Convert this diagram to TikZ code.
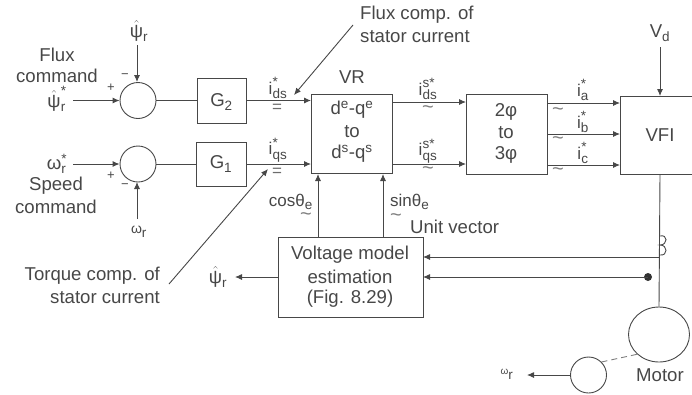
\documentclass[tikz,border=0pt]{standalone}
\usepackage{fontspec}
\setmainfont{Liberation Sans}
\usetikzlibrary{arrows.meta,calc,shapes.geometric}
\definecolor{ink}{gray}{0.28}
\newcommand{\fs}[1]{\fontsize{#1}{#1}\selectfont}
\newcommand{\sym}[3]{$\hbox{#1}_{\hbox{\fs{13.5}#3}}^{\hbox{\fs{13.5}#2}}$}
\newcommand{\hsym}[2]{$\hat{\hbox{ψ}}_{\hbox{\fs{13.5}#2}}^{\hbox{\fs{13.5}#1}}$}
\tikzset{
  txt/.style={text=ink,font=\fs{18.6},inner sep=0pt,align=center},
  lab/.style={txt,font=\fs{17}},
  tld/.style={text=ink!70,font=\fs{20},inner sep=0pt},
  eqs/.style={text=ink!80,font=\fs{17},inner sep=0pt},
  block/.style={draw=ink,line width=0.9pt,inner sep=0pt},
  ring/.style={draw=ink,line width=0.9pt,circle,inner sep=0pt},
  wire/.style={draw=ink,line width=0.9pt},
  arr/.style={wire,-{Latex[length=7pt,width=6pt]}}
}
\begin{document}
\begin{tikzpicture}[x=1pt,y=-1pt]
\useasboundingbox (0,0) rectangle (692,394);
% blocks
\node[ring,minimum size=36pt] (s1) at (138,100.5) {};
\node[ring,minimum size=36pt] (s2) at (138,164) {};
\node[block,minimum width=49pt,minimum height=45pt] (g2) at (221.5,100.5) {};
\node[txt] at (221.5,102) (g2t) {G$_{\hbox{\fs{13.5}2}}$};
\node[block,minimum width=50pt,minimum height=44pt] (g1) at (221,164) {};
\node[txt] at (221,164) (g1t) {G$_{\hbox{\fs{13.5}1}}$};
\node[block,minimum width=81pt,minimum height=79pt] (vr) at (351.5,133.5) {};
\node[txt] (vrt1) at (352,110) {d$^{\hbox{\fs{13.5}e}}$-q$^{\hbox{\fs{13.5}e}}$};
\node[txt] (vrt2) at (352,132) {to};
\node[txt] (vrt3) at (352,154) {d$^{\hbox{\fs{13.5}s}}$-q$^{\hbox{\fs{13.5}s}}$};
\node[block,minimum width=81pt,minimum height=80pt] (tp) at (506.5,134) {};
\node[txt] (tp1) at (506,112) {2φ};
\node[txt] (tp2) at (506,133) {to};
\node[txt] (tp3) at (506,155) {3φ};
\node[block,minimum width=72pt,minimum height=78pt,anchor=west] (vfi) at (620,135) {};
\node[txt] (vfit) at (660,135) {VFI};
\node[block,minimum width=145pt,minimum height=80pt] (vm) at (350.5,277) {};
\node[txt] (vm1) at (350,255) {Voltage model};
\node[txt] (vm2) at (350,277) {estimation};
\node[txt] (vm3) at (350,299) {(Fig. 8.29)};
\node[draw=ink,line width=0.9pt,ellipse,minimum width=61pt,minimum height=55pt,inner sep=0pt] (mot) at (659,334.5) {};
\node[ring,minimum size=36pt] (tach) at (588.5,375) {};
% text
\node[txt] (flux) at (57,55) {Flux};
\node[txt] (fcmd) at (57,76) {command};
\node[txt] (psic) at (57,99) {\hsym{*}{r}};
\node[txt] (psifb) at (139,31) {\hsym{}{r}};
\node[txt] (wc) at (57,164) {\sym{ω}{*}{r}};
\node[txt] (speed) at (56,186) {Speed};
\node[txt] (scmd) at (56,207) {command};
\node[txt,font=\fs{14}] (wfb) at (139,232) {\sym{ω}{}{r}};
\node[txt,anchor=west] (fc1) at (360,15) {Flux comp. of};
\node[txt,anchor=west] (fc2) at (360,37) {stator current};
\node[txt,anchor=east] (tc1) at (160,276) {Torque comp. of};
\node[txt,anchor=east] (tc2) at (160,298) {stator current};
\node[txt] (vrl) at (352,77) {VR};
\node[lab] (ids) at (278,88) {\sym{i}{*}{ds}};
\node[lab] (iqs) at (278,150) {\sym{i}{*}{qs}};
\node[eqs] (e1) at (277,108) {=};
\node[eqs] (e2) at (277,172.5) {=};
\node[lab] (idss) at (428,89) {\sym{i}{s*}{ds}};
\node[lab] (iqss) at (428,151) {\sym{i}{s*}{qs}};
\node[tld] (t1) at (428,110) {\textasciitilde};
\node[tld] (t2) at (428,171) {\textasciitilde};
\node[lab] (ia) at (583,90) {\sym{i}{*}{a}};
\node[lab] (ib) at (583,122) {\sym{i}{*}{b}};
\node[lab] (ic) at (583,153) {\sym{i}{*}{c}};
\node[tld] (t3) at (558,112) {\textasciitilde};
\node[tld] (t4) at (558,141) {\textasciitilde};
\node[tld] (t5) at (558,172) {\textasciitilde};
\node[txt] (vd) at (660,33) {V$_{\hbox{\fs{13.5}d}}$};
\node[lab,anchor=east] (cos) at (313,202) {cosθ$_{\hbox{\fs{13.5}e}}$};
\node[tld] (t6) at (306,217) {\textasciitilde};
\node[lab,anchor=west] (sin) at (390,202) {sinθ$_{\hbox{\fs{13.5}e}}$};
\node[tld] (t7) at (396,218) {\textasciitilde};
\node[txt,anchor=west] (uv) at (410,227) {Unit vector};
\node[txt] (psio) at (218,277) {\hsym{}{r}};
\node[txt,font=\fs{10}] (wo) at (507,374) {\sym{ω}{}{r}};
\node[txt] (motl) at (660,375) {Motor};
\node[txt,font=\fs{13}] (mn) at (125,76) {−};
\node[txt,font=\fs{13}] (pl) at (111,88) {+};
\node[txt,font=\fs{13}] (pl2) at (111,176) {+};
\node[txt,font=\fs{13}] (mn2) at (125,186) {−};
% free ends
\coordinate (a) at (73,100.5);
\coordinate (b) at (73,164);
\coordinate (c) at (137,45);
\coordinate (d) at (137,219);
\coordinate (e) at (353,25);
\coordinate (f) at (294,95);
\coordinate (g) at (169,284);
\coordinate (h) at (268,169);
\coordinate (jt) at (660,257);
\coordinate (dot) at (648,277);
\fill[ink!70!black] (dot) circle (4pt);
% connectors
\draw[arr] (a) -- (s1.west);
\draw[arr] (b) -- (s2.west);
\draw[arr] (c) -- (137,82);
\draw[arr] (d) -- (137,182);
\draw[wire] (s1.east) -- (g2.west);
\draw[wire] (s2.east) -- (g1.west);
\draw[arr] (g2.east) -- (311,100.5);
\draw[arr] (g1.east) -- (311,164);
\draw[arr] (e) -- (f);
\draw[arr] (g) -- (h);
\draw[arr] (392,102) -- (466,102);
\draw[arr] (392,164) -- (466,164);
\draw[arr] (547,103) -- (620,103);
\draw[arr] (547,134) -- (620,134);
\draw[arr] (547,165) -- (620,165);
\draw[arr] (660,47) -- (660,96);
\draw[wire] (660,174) -- (mot.north);
\draw[arr] (318,237) -- (318,174);
\draw[arr] (383,237) -- (383,174);
\draw[arr] (jt) -- (423,257);
\draw[arr] (dot) -- (423,277);
\draw[arr] (278,277) -- (235,277);
\draw[wire,dash pattern=on 6pt off 4pt,draw=ink!70] (tach.north east) -- (mot.south west);
\draw[arr] (tach.west) -- (527,375);
% current sensor
\draw[wire] (660,236) .. controls (668,234) and (668,245) .. (660,245) .. controls (668,245) and (668,256) .. (660,255);
\end{tikzpicture}
\end{document}
